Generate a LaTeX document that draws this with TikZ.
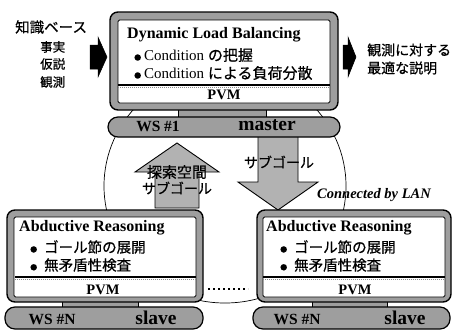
\documentclass[tikz,border=0pt]{standalone}
\usepackage{fontspec}
\setmainfont{Liberation Serif}
\newfontfamily\jpf{Noto Sans CJK JP}[FakeBold=0.6]
\newcommand\myjp[2]{{\jpf\fontsize{#1}{#1}\selectfont #2}}
\newcommand\mybul{\raisebox{0.5pt}{\myjp{7}{●}}}
\tikzset{
  bezel/.style={draw, line width=1.4pt, fill=black!38, rounded corners=8pt, inner sep=0pt},
  screen/.style={draw, line width=0.9pt, fill=white, rounded corners=1.5pt, inner sep=0pt},
  neckbox/.style={draw, line width=0.8pt, fill=black!38, inner sep=0pt},
  basebar/.style={draw, line width=1.2pt, fill=black!38, rounded corners=10pt, inner sep=0pt},
  ttl/.style={font=\fontsize{16}{16}\selectfont\bfseries, inner sep=0pt, anchor=west},
  itm/.style={font=\fontsize{15}{15}\selectfont, inner sep=0pt, anchor=west},
  pvm/.style={font=\fontsize{14.5}{14.5}\selectfont\bfseries, inner sep=0pt},
  wslbl/.style={font=\fontsize{15.5}{15.5}\selectfont\bfseries, inner sep=0pt},
  rolelbl/.style={font=\fontsize{19.5}{19.5}\selectfont\bfseries, inner sep=0pt},
  sideleft/.style={inner sep=0pt, anchor=west},
  blockarrow/.style={fill=black!30, draw, line width=0.9pt},
  blackarrow/.style={fill=black, draw=black, line width=0.5pt},
  sepline/.style={line width=1.2pt},
  sepshade/.style={line width=0.8pt, black!45, dash pattern=on 1pt off 1pt},
  lan/.style={line width=0.7pt},
  dotrow/.style={line width=2.4pt, dash pattern=on 2.4pt off 2.6pt}
}
\begin{document}
\begin{tikzpicture}[x=1pt,y=-1pt]
\useasboundingbox (0,0) rectangle (452,330);
% LAN ellipse
\draw[lan] (225,186) ellipse [x radius=121, y radius=117];
% down arrow (master -> slave)
\draw[blockarrow] (258,132) -- (298,132) -- (298,182) -- (318,182) -- (278,210) -- (238,182) -- (258,182) -- cycle;
% master monitor
\node[neckbox, minimum width=88pt, minimum height=12pt] (mneck) at (222,113) {};
\node[bezel, minimum width=228pt, minimum height=98pt] (mbez) at (224,61) {};
\node[screen, minimum width=212pt, minimum height=83pt] (mscr) at (224,61.5) {};
\draw[sepline] (118,85) -- (330,85);
\draw[sepshade] (118,87.5) -- (330,87.5);
\node[basebar, minimum width=232pt, minimum height=20pt] (mbase) at (224,127) {};
\node[wslbl] (mws) at (158,126) {WS \#1};
\node[rolelbl] (mrole) at (267,125) {master};
\node[ttl] (mttl) at (127,35) {Dynamic Load Balancing};
\node[itm] (mi1) at (134,55) {\mybul\hspace{3pt}Condition \myjp{15}{の把握}};
\node[itm] (mi2) at (134,73) {\mybul\hspace{3pt}Condition \myjp{15}{による負荷分散}};
\node[pvm] (mpvm) at (224,95) {PVM};
% left slave monitor
\node[neckbox, minimum width=76pt, minimum height=9pt] (lneck) at (100,304) {};
\node[bezel, minimum width=196pt, minimum height=92pt] (lbez) at (105,256) {};
\node[screen, minimum width=182pt, minimum height=80pt] (lscr) at (105,257) {};
\draw[sepline] (15,277) -- (196,277);
\draw[sepshade] (15,279.5) -- (196,279.5);
\node[basebar, minimum width=198pt, minimum height=22pt] (lbase) at (104,318) {};
\node[wslbl] (lws) at (52,319) {WS \#N};
\node[rolelbl] (lrole) at (156,318) {slave};
\node[ttl] (lttl) at (19,228) {Abductive Reasoning};
\node[itm] (li1) at (30,247) {\mybul\hspace{7pt}\myjp{14.5}{ゴール節の展開}};
\node[itm] (li2) at (30,265) {\mybul\hspace{7pt}\myjp{14.5}{無矛盾性検査}};
\node[pvm] (lpvm) at (103,290) {PVM};
% right slave monitor
\node[neckbox, minimum width=75pt, minimum height=9pt] (rneck) at (349.5,304) {};
\node[bezel, minimum width=194pt, minimum height=92pt] (rbez) at (354,256) {};
\node[screen, minimum width=182pt, minimum height=80pt] (rscr) at (354,257) {};
\draw[sepline] (263,277) -- (445,277);
\draw[sepshade] (263,279.5) -- (445,279.5);
\node[basebar, minimum width=197pt, minimum height=22pt] (rbase) at (351.5,318) {};
\node[wslbl] (rws) at (297,319) {WS \#N};
\node[rolelbl] (rrole) at (405,318) {slave};
\node[ttl] (rttl) at (266,228) {Abductive Reasoning};
\node[itm] (ri1) at (280,247) {\mybul\hspace{7pt}\myjp{14.5}{ゴール節の展開}};
\node[itm] (ri2) at (280,265) {\mybul\hspace{7pt}\myjp{14.5}{無矛盾性検査}};
\node[pvm] (rpvm) at (355,290) {PVM};
% up arrow (slave -> master)
\draw[blockarrow] (177,143) -- (219,172) -- (199,172) -- (199,208) -- (155,208) -- (155,172) -- (135,172) -- cycle;
\node[inner sep=0pt] (up1) at (177,172) {\myjp{15}{探索空間}};
\node[inner sep=0pt] (up2) at (177,188) {\myjp{14}{サブゴール}};
\node[inner sep=0pt] (dn1) at (279,162) {\myjp{14}{サブゴール}};
% LAN label and dots
\node[inner sep=0pt, font=\fontsize{14.5}{14.5}\selectfont\bfseries\itshape] (lanlbl) at (374,195) {Connected by LAN};
\coordinate (d1) at (208,289);
\coordinate (d2) at (248,289);
\draw[dotrow] (d1) -- (d2);
% input/output arrows
\draw[blackarrow] (90,45) -- (98,45) -- (98,37) -- (107,57) -- (98,77) -- (98,69) -- (90,69) -- cycle;
\draw[blackarrow] (343,45) -- (348,45) -- (348,37) -- (356,57) -- (348,77) -- (348,69) -- (343,69) -- cycle;
% side texts
\node[sideleft] (k0) at (15,27) {\myjp{14.5}{知識ベース}};
\node[sideleft] (k1) at (40,47) {\myjp{12.5}{事実}};
\node[sideleft] (k2) at (40,64) {\myjp{12.5}{仮説}};
\node[sideleft] (k3) at (40,82) {\myjp{12.5}{観測}};
\node[sideleft] (o1) at (367,50) {\myjp{14}{観測に対する}};
\node[sideleft] (o2) at (367,68) {\myjp{14}{最適な説明}};
\end{tikzpicture}
\end{document}
